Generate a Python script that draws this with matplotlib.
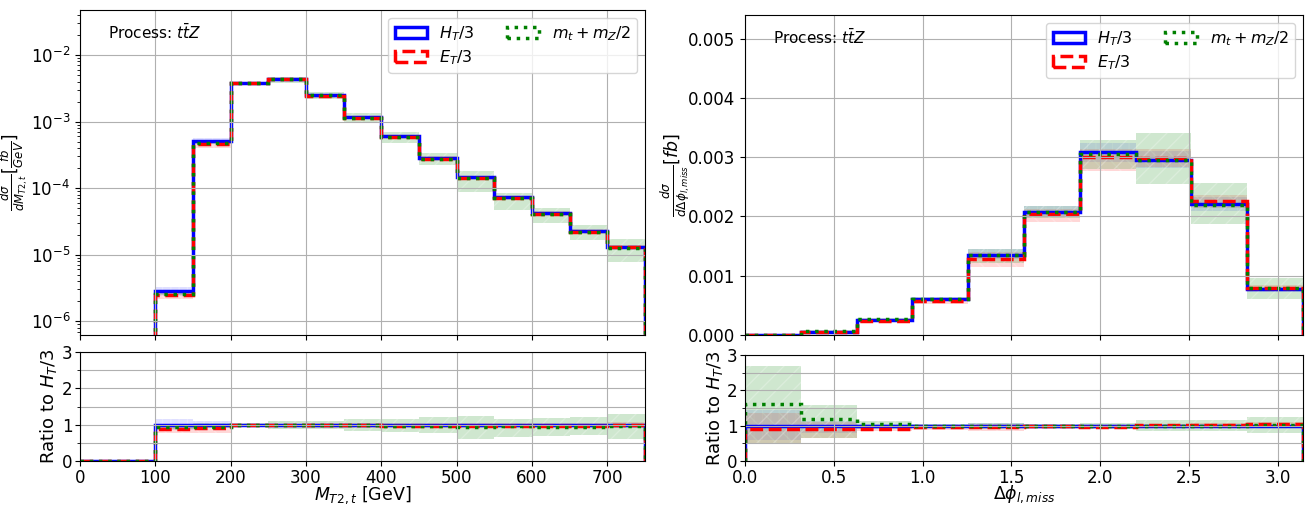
import numpy as np
import matplotlib
matplotlib.use("Agg")
import matplotlib.pyplot as plt
from matplotlib.patches import Patch
from matplotlib.ticker import MultipleLocator

# ---- M_T2,t distribution (bins of 50 GeV) ----
edges_m = np.arange(0, 751, 50)
ht_m = [0, 0, 2.8e-6, 5.1e-4, 3.75e-3, 4.3e-3, 2.5e-3, 1.17e-3, 6.0e-4,
        2.85e-4, 1.47e-4, 7.3e-5, 4.3e-5, 2.3e-5, 1.3e-5]
# ratios to H_T/3 and scale bands
ht_r_m = [0, 0, 1, 1, 1, 1, 1, 1, 1, 1, 1, 1, 1, 1, 1]
et_r_m = [0, 0, 0.87, 0.90, 1.0, 1.0, 0.98, 0.98, 0.97, 0.97, 0.96, 0.97, 0.96, 0.96, 1.0]
mt_r_m = [0, 0, 0.93, 0.95, 1.0, 1.0, 0.99, 0.98, 0.97, 0.97, 0.95, 0.96, 0.95, 0.95, 0.96]
ht_lo_m = [0, 0, 0.85, 0.95, 0.97, 0.97, 0.97, 0.97, 0.97, 0.97, 0.97, 0.97, 0.97, 0.97, 0.97]
ht_hi_m = [0, 0, 1.16, 1.10, 1.03, 1.03, 1.03, 1.03, 1.03, 1.03, 1.03, 1.03, 1.03, 1.03, 1.03]
et_lo_m = [0, 0, 0.78, 0.78, 0.95, 0.95, 0.92, 0.92, 0.90, 0.90, 0.90, 0.90, 0.90, 0.90, 0.92]
et_hi_m = [0, 0, 1.0, 0.98, 1.03, 1.03, 1.04, 1.04, 1.05, 1.05, 1.05, 1.05, 1.05, 1.05, 1.08]
mt_lo_m = [0, 0, 0.88, 0.90, 0.95, 0.88, 0.88, 0.83, 0.80, 0.78, 0.60, 0.65, 0.70, 0.72, 0.60]
mt_hi_m = [0, 0, 1.02, 1.05, 1.05, 1.10, 1.10, 1.15, 1.15, 1.20, 1.25, 1.15, 1.18, 1.20, 1.30]

# ---- Delta phi_l,miss distribution (10 bins over [0, pi]) ----
edges_p = np.linspace(0, np.pi, 11)
ht_p = [4e-6, 5e-5, 2.5e-4, 6.0e-4, 1.35e-3, 2.08e-3, 3.08e-3, 2.96e-3, 2.21e-3, 7.7e-4]
ht_r_p = [1, 1, 1, 1, 1, 1, 1, 1, 1, 1]
et_r_p = [0.90, 0.90, 0.92, 0.95, 0.95, 0.98, 0.975, 1.01, 1.02, 1.04]
mt_r_p = [1.62, 1.20, 1.05, 1.0, 1.0, 1.0, 0.99, 1.0, 0.99, 1.03]
ht_lo_p = [0.60, 0.80, 0.95, 0.96, 0.95, 0.96, 0.95, 0.95, 0.95, 0.95]
ht_hi_p = [1.45, 1.12, 1.06, 1.05, 1.07, 1.05, 1.05, 1.05, 1.05, 1.05]
et_lo_p = [0.50, 0.65, 0.85, 0.88, 0.85, 0.92, 0.90, 0.96, 0.97, 0.98]
et_hi_p = [1.35, 1.10, 1.00, 1.02, 1.04, 1.02, 1.02, 1.06, 1.07, 1.10]
mt_lo_p = [0.50, 0.65, 0.90, 0.95, 0.90, 0.95, 0.91, 0.86, 0.85, 0.80]
mt_hi_p = [2.70, 1.58, 1.12, 1.06, 1.08, 1.05, 1.07, 1.15, 1.16, 1.24]

labels = [r'$H_T/3$', r'$E_T/3$', r'$m_t+m_Z/2$']
colors = ['blue', 'red', 'green']
styles = ['-', '--', ':']
band_cols = ['#8080ff', '#ff6060', '#40a040']
hatches = ['||', '\\\\', '//']

fig = plt.figure(figsize=(13.07, 5.05), dpi=100)
axes = {
    'm': (fig.add_axes([0.0612, 0.3366, 0.4323, 0.6436]),
          fig.add_axes([0.0612, 0.0871, 0.4323, 0.2158])),
    'p': (fig.add_axes([0.570, 0.3366, 0.4269, 0.6337]),
          fig.add_axes([0.570, 0.0871, 0.4269, 0.2099])),
}


def draw(ax, rax, edges, ht, ratios, bands):
    ht = np.array(ht)
    for i in range(3):
        lo, hi = np.array(bands[i][0]), np.array(bands[i][1])
        kw = dict(fill=True, facecolor=band_cols[i], alpha=0.25, lw=0,
                  edgecolor='white', hatch=hatches[i])
        ax.stairs(hi * ht, edges, baseline=lo * ht, **kw)
        rax.stairs(hi, edges, baseline=lo, **kw)
    for i in range(3):
        r = np.array(ratios[i])
        ax.stairs(r * ht, edges, color=colors[i], ls=styles[i], lw=2.5)
        rax.stairs(r, edges, color=colors[i], ls=styles[i], lw=2.5)
    ax.text(0.05, 0.93, r'Process: $t\bar{t}Z$', transform=ax.transAxes,
            fontsize=11, va='center')
    handles = [Patch(facecolor='none', edgecolor=colors[i], ls=styles[i],
                     lw=2.5, label=labels[i]) for i in range(3)]
    ax.legend(handles=handles, loc='upper right', ncol=2, fontsize=11.5,
              handlelength=2.0, columnspacing=2.0, labelspacing=0.3)
    ax.grid(True)
    rax.grid(True, which='both')
    rax.set_ylim(0, 3)
    rax.yaxis.set_major_locator(MultipleLocator(1))
    rax.yaxis.set_minor_locator(MultipleLocator(0.5))
    rax.set_ylabel(r'Ratio to $H_T/3$', fontsize=13)
    ax.tick_params(labelbottom=False, labelsize=12)
    rax.tick_params(labelsize=12, pad=2)
    ax.set_xlim(edges[0], edges[-1])
    rax.set_xlim(edges[0], edges[-1])
    rax.xaxis.set_label_coords(0.5, -0.215)


ax, rax = axes['m']
draw(ax, rax, edges_m, ht_m, [ht_r_m, et_r_m, mt_r_m],
     [(ht_lo_m, ht_hi_m), (et_lo_m, et_hi_m), (mt_lo_m, mt_hi_m)])
ax.set_yscale('log')
ax.set_ylim(6.2e-7, 0.0475)
ax.set_xticks(np.arange(0, 701, 100))
rax.set_xticks(np.arange(0, 701, 100))
ax.set_ylabel(r'$\frac{d\sigma}{dM_{T2,t}}[\frac{fb}{GeV}]$', fontsize=12)
ax.yaxis.set_label_coords(-0.088, 0.5)
rax.yaxis.set_label_coords(-0.038, 0.5)
rax.set_xlabel(r'$M_{T2,t}$ [GeV]', fontsize=12.5)

ax, rax = axes['p']
draw(ax, rax, edges_p, ht_p, [ht_r_p, et_r_p, mt_r_p],
     [(ht_lo_p, ht_hi_p), (et_lo_p, et_hi_p), (mt_lo_p, mt_hi_p)])
ax.set_ylim(0, 0.0054)
ax.yaxis.set_major_locator(MultipleLocator(0.001))
ax.set_ylabel(r'$\frac{d\sigma}{d\Delta\phi_{l,miss}}[fb]$', fontsize=12.5)
ax.yaxis.set_label_coords(-0.095, 0.5)
rax.yaxis.set_label_coords(-0.036, 0.5)
rax.set_xlabel(r'$\Delta\phi_{l,miss}$', fontsize=12.5)

plt.savefig('out.png', dpi=100)
